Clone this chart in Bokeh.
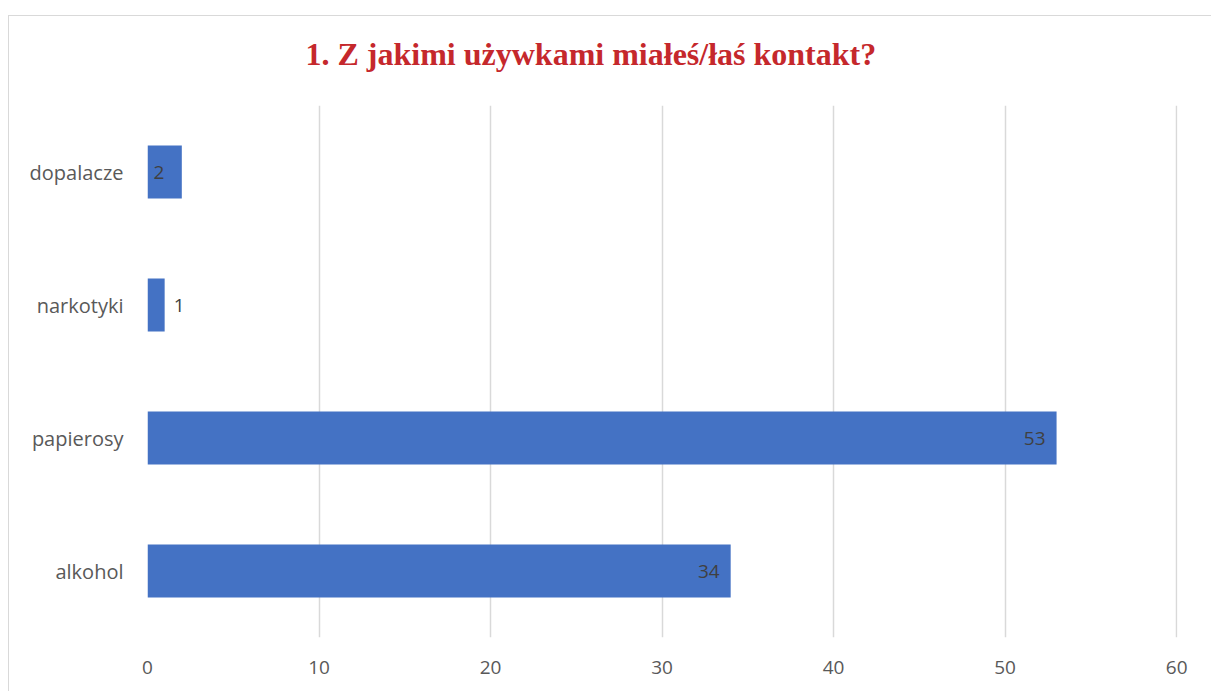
from bokeh.plotting import figure
from bokeh.models import FixedTicker, ColumnDataSource
from bokeh.embed import file_html
from bokeh.resources import INLINE
from bokeh.core.properties import value

categories = ["alkohol", "papierosy", "narkotyki", "dopalacze"]
counts = [34, 53, 1, 2]
x_ticks = [0, 10, 20, 30, 40, 50, 60]

title_text = "1. Z jakimi używkami miałeś/łaś kontakt?"

p = figure(width=1211, height=691, output_backend="svg", toolbar_location=None,
           y_range=categories, x_range=(0, 60.05),
           min_border_left=147, min_border_right=34,
           min_border_top=105, min_border_bottom=54)
p.y_range.range_padding = 0

p.title.text = title_text
p.title.align = "left"
p.title.offset = 158
p.title.text_font = "Liberation Serif"
p.title.text_font_style = "bold"
p.title.text_font_size = "32px"
p.title.text_color = "#C5282C"
p.title.standoff = 64
p.title.vertical_align = "top"

p.outline_line_color = None
p.background_fill_color = "white"
p.border_fill_alpha = 0

src = ColumnDataSource(dict(cat=categories, val=counts))
p.hbar(y="cat", right="val", left=0, height=0.4, source=src,
       fill_color="#4472C4", line_color=None)

# data labels: inside end when they fit, outside otherwise
px_per_unit = (1177 - 147) / 60.0
lx, ly, lt, la, lo = [], [], [], [], []
for c, v in zip(categories, counts):
    bar_px = v * px_per_unit
    ly.append(c)
    lt.append(str(v))
    if bar_px >= 60:
        lx.append(v); la.append("right"); lo.append(-11)
    elif bar_px >= 25:
        lx.append(0); la.append("left"); lo.append(6)
    else:
        lx.append(v); la.append("left"); lo.append(9)
p.text(x=lx, y=ly, text=lt, text_align=la, x_offset=lo, text_baseline="middle",
       text_font=value("Open Sans"), text_font_size="19px", text_color="#404040")

p.xaxis.ticker = FixedTicker(ticks=x_ticks)
p.xgrid.ticker = FixedTicker(ticks=x_ticks)
p.xgrid.grid_line_color = "#d9d9d9"
p.xgrid.grid_line_width = 1.5
p.ygrid.grid_line_color = None

for ax in (p.xaxis[0], p.yaxis[0]):
    ax.axis_line_color = None
    ax.major_tick_line_color = None
    ax.minor_tick_line_color = None
    ax.major_tick_out = 0
    ax.major_tick_in = 0
    ax.major_label_text_font = "Open Sans"
    ax.major_label_text_color = "#595959"
p.xaxis.major_label_text_font_size = "19px"
p.yaxis.major_label_text_font_size = "20px"
p.xaxis.major_label_standoff = 23
p.yaxis.major_label_standoff = 24

# outer chart border (top and left edges) painted behind the transparent canvas
p.styles = {"background": "linear-gradient(#d9d9d9, #d9d9d9) 8px 15px / 1px 676px no-repeat, "
                          "linear-gradient(#d9d9d9, #d9d9d9) 8px 15px / 1203px 1px no-repeat, "
                          "#ffffff"}

open("out.html", "w").write(file_html(p, INLINE))
